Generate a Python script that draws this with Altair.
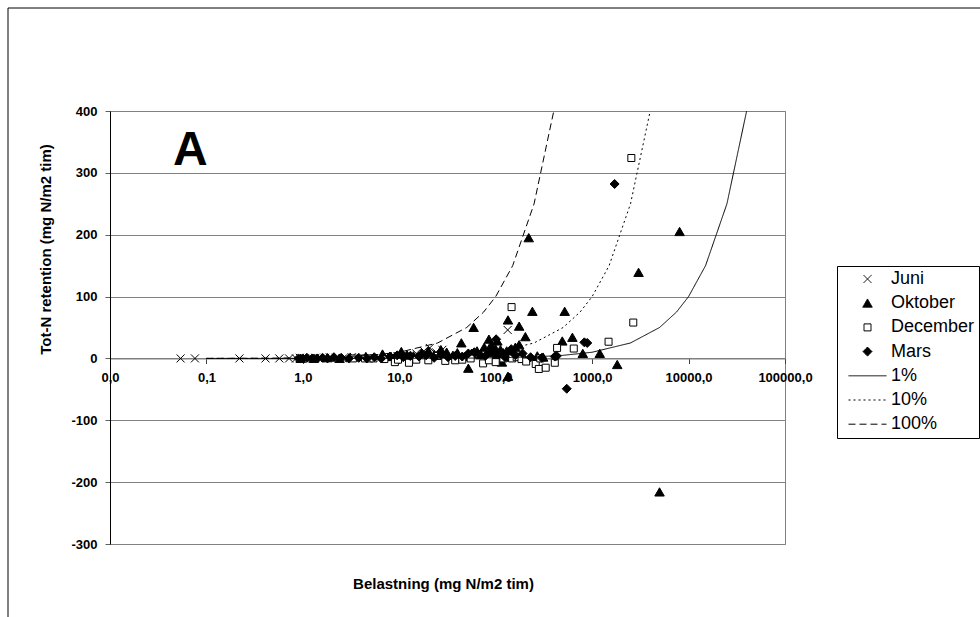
import altair as alt
import pandas as pd

# ---------------- data ----------------
series_order = ["Juni", "Oktober", "December", "Mars", "1%", "10%", "100%"]

juni_load = [0.054, 0.076, 0.22, 0.41, 0.57, 0.72, 0.85, 0.93, 1.05, 1.2, 1.35, 1.5, 1.7, 1.9,
             2.2, 2.6, 3.2, 4.0, 7.5, 12, 15, 18, 20.7, 24, 28, 35, 133]
juni_ret = [0, 0, 0, 0, 0, 0, 0, 1, 0, 0, 1, 0, 1, 2, 1, 0, 2, 1, 3, 5, 8, 12, 17, 10, 14, 4, 46]

oktober_load = [0.95, 1.3, 1.8, 2.4, 3.1, 4.5, 6.7, 8.2, 10.5, 12, 14, 17, 20, 23, 27, 31, 36, 40,
                44, 48, 52, 56, 59, 64, 70, 76, 82, 85, 90, 95, 100, 104, 108, 112, 116, 120, 125,
                130, 134, 134, 140, 150, 160, 175, 175, 190, 203, 220, 240, 270, 310, 490, 519, 624,
                800, 1200, 1820, 3030, 5000, 8070]
oktober_ret = [0, 0, 1, 0, 2, 3, 7, 3, 11, 6, 4, 9, 12, 6, 14, 10, 5, 9, 25, 3, -16, 8, 50, 12, 6,
               18, 10, 31, 22, 8, 15, 28, 4, 14, -6, 9, 2, 12, 62, -29, 3, 7, 18, 52, 22, 5, 35,
               195, 76, 4, 2, 28, 76, 34, 8, 8, -10, 139, -216, 205]

december_load = [3.3, 4.4, 4.9, 5.4, 7.0, 9.0, 9.7, 12.6, 15, 20, 25, 30, 38, 45, 55, 74, 85, 100,
                 120, 146, 148, 165, 185, 207, 260, 280, 290, 330, 410, 433, 645, 1480, 2550, 2670]
december_ret = [0, 0, 0, 0, -1, -6, -2, -7, -2, -3, 4, -4, -3, -2, 0, -8, -3, -6, 0, 83, 0, 2, -1,
                -5, -9, -17, 0, -15, -7, 17, 16, 27, 324, 58]

mars_load = [0.9, 1.0, 1.1, 1.25, 1.4, 1.6, 1.8, 2.1, 2.5, 3.0, 3.8, 4.6, 5.5, 6.5, 8, 9.5, 11, 13,
             16, 19, 23, 27, 32, 38, 45, 52, 60, 68, 78, 88, 101, 110, 125, 145, 160, 190, 230, 300,
             410, 430, 545, 830, 890, 1710]
mars_ret = [0, 0, 1, 0, 0, 1, 0, 2, 1, 0, 1, 0, 2, 0, 3, 5, 2, 4, 3, 5, 1, 6, 2, 4, 3, 8, 10, 6, 4,
            12, 31, 8, 2, 15, 5, 8, 2, 1, 3, 4, -49, 26, 25, 282]

line1_load = [0.1, 0.25, 0.5, 1, 2.5, 5, 10, 25, 50, 100, 250, 500, 1000, 2500, 5000, 7500, 10000,
              15000, 25000, 40000]
line1_ret = [0.001, 0.0025, 0.005, 0.01, 0.025, 0.05, 0.1, 0.25, 0.5, 1, 2.5, 5, 10, 25, 50, 75,
             100, 150, 250, 400]
line10_load = [0.1, 0.25, 0.5, 1, 2.5, 5, 10, 25, 50, 100, 250, 500, 750, 1000, 1500, 2500, 4000]
line10_ret = [0.01, 0.025, 0.05, 0.1, 0.25, 0.5, 1, 2.5, 5, 10, 25, 50, 75, 100, 150, 250, 400]
line100_load = [0.1, 0.25, 0.5, 1, 2.5, 5, 10, 25, 50, 75, 100, 150, 250, 400]
line100_ret = [0.1, 0.25, 0.5, 1, 2.5, 5, 10, 25, 50, 75, 100, 150, 250, 400]

x_ticks = [0.01, 0.1, 1, 10, 100, 1000, 10000, 100000]
y_ticks = [-300, -200, -100, 0, 100, 200, 300, 400]

for a, b in [(juni_load, juni_ret), (oktober_load, oktober_ret), (december_load, december_ret),
             (mars_load, mars_ret), (line1_load, line1_ret), (line10_load, line10_ret),
             (line100_load, line100_ret)]:
    assert len(a) == len(b)


def frame(name, xs, ys):
    return pd.DataFrame({"series": name, "load": xs, "ret": ys})


points = pd.concat([
    frame("Juni", juni_load, juni_ret),
    frame("Oktober", oktober_load, oktober_ret),
    frame("December", december_load, december_ret),
    frame("Mars", mars_load, mars_ret),
], ignore_index=True)

lines = pd.concat([
    frame("1%", line1_load, line1_ret),
    frame("10%", line10_load, line10_ret),
    frame("100%", line100_load, line100_ret),
], ignore_index=True)

# ---------------- styling ----------------
FONT = "Liberation Sans"
cross_path = "M-0.8,-0.8L0.8,0.8M-0.8,0.8L0.8,-0.8"
tri_path = "M0,-0.85L0.95,0.8L-0.95,0.8Z"
sq_path = "M-0.7,-0.7H0.7V0.7H-0.7Z"
dia_path = "M0,-0.9L0.9,0L0,0.9L-0.9,0Z"
line_path = "M-3.8,0H3.8"

shape_scale = alt.Scale(domain=series_order,
                        range=[cross_path, tri_path, sq_path, dia_path, line_path, line_path, line_path])
fill_scale = alt.Scale(domain=series_order,
                       range=["transparent", "black", "white", "black", "transparent", "transparent", "transparent"])
dash_scale = alt.Scale(domain=series_order,
                       range=[[1, 0], [1, 0], [1, 0], [1, 0], [1, 0], [2, 3], [7, 4]])

leg = alt.Legend(title=None, orient="none", legendX=727, legendY=155)

x_scale = alt.Scale(type="log", domain=[0.01, 100000], nice=False)
y_scale = alt.Scale(domain=[-300, 400], nice=False, zero=False)

x_axis = alt.Axis(values=x_ticks,
                  labelExpr="replace(format(datum.value, '.1f'), '.', ',')",
                  grid=False, offset=-185.5, tickSize=5, labelPadding=8,
                  domainColor="#808080", tickColor="#404040",
                  labelFlush=False, labelOverlap=False,
                  title="Belastning (mg N/m2 tim)", titleX=333, titleY=224.5,
                  titleAlign="center", titleBaseline="middle")
y_axis = alt.Axis(values=y_ticks, grid=True, gridColor="#808080", tickSize=5, labelPadding=8,
                  labelExpr="toString(datum.value)",
                  domainColor="black", tickColor="#606060",
                  title="Tot-N retention (mg N/m2 tim)", titleX=-65, titleY=138, titleAngle=270,
                  titleAlign="center", titleBaseline="middle")

pts = alt.Chart(points).mark_point(opacity=1, strokeWidth=1, stroke="black", size=100,
                                   clip=True).encode(
    x=alt.X("load:Q", scale=x_scale, axis=x_axis),
    y=alt.Y("ret:Q", scale=y_scale, axis=y_axis),
    shape=alt.Shape("series:N", scale=shape_scale, legend=leg),
    fill=alt.Fill("series:N", scale=fill_scale, legend=leg),
)

lns = alt.Chart(lines).mark_line(color="black", strokeWidth=1, clip=True).encode(
    x=alt.X("load:Q", scale=x_scale),
    y=alt.Y("ret:Q", scale=y_scale),
    strokeDash=alt.StrokeDash("series:N", scale=dash_scale, legend=leg),
)

one = pd.DataFrame({"k": [0]})
letter = alt.Chart(one).mark_text(text="A", font=FONT, fontSize=48, fontWeight="bold",
                                  align="left", baseline="alphabetic", color="black").encode(
    x=alt.value(63), y=alt.value(54))
top_border = alt.Chart(one).mark_rule(color="black", strokeWidth=1).encode(
    x=alt.value(-102), x2=alt.value(870), y=alt.value(-103))
left_border = alt.Chart(one).mark_rule(color="black", strokeWidth=1).encode(
    x=alt.value(-102), y=alt.value(-103), y2=alt.value(506))

chart = alt.layer(top_border, left_border, pts, lns, letter).properties(
    width=675, height=433,
    autosize=alt.AutoSizeParams(type="none"),
    padding={"left": 110, "top": 111, "right": 195, "bottom": 73},
    background="white",
).configure_view(stroke="#808080", strokeWidth=1).configure_axis(
    labelFont=FONT, labelFontSize=13, labelFontWeight="bold", labelColor="black",
    titleFont=FONT, titleFontSize=15, titleFontWeight="bold", titleColor="black",
).configure_legend(
    strokeColor="black", fillColor="white", padding=4, symbolOffset=17.5, symbolSize=100,
    rowPadding=6.2, labelFont=FONT, labelFontSize=18, labelColor="black", labelOffset=14.5,
    symbolStrokeWidth=1, symbolStrokeColor="black", symbolFillColor="transparent",
    cornerRadius=0,
)

chart.save("out.html", embed_options={"renderer": "svg", "actions": False})
